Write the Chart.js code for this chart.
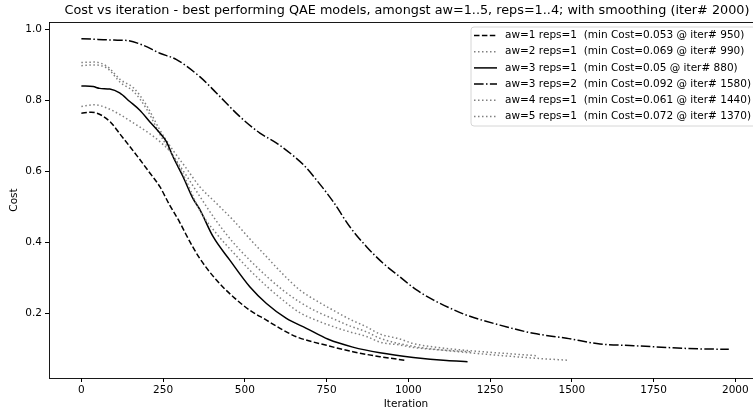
<!DOCTYPE html>
<html>
<head>
<meta charset="utf-8">
<script src="https://cdn.jsdelivr.net/npm/chart.js@4/dist/chart.umd.min.js"></script>
<style>
  html, body { margin: 0; padding: 0; background: #fff; }
  #wrap { width: 753px; height: 414px; position: relative; }
</style>
</head>
<body>
<div id="wrap"><canvas id="chart"></canvas></div>
<script>
// Tick labels
const xTicks = [0, 250, 500, 750, 1000, 1250, 1500, 1750, 2000];
const yTicks = [0.2, 0.4, 0.6, 0.8, 1.0];

// Series (iteration, smoothed cost)
const aw1r1Iter = [0, 30, 60, 90, 120, 150, 180, 210, 240, 270, 300, 330, 362, 413, 464, 515, 566, 617, 658, 750, 830, 913, 990];
const aw1r1Cost = [0.764, 0.767, 0.759, 0.738, 0.703, 0.668, 0.632, 0.595, 0.557, 0.505, 0.458, 0.405, 0.355, 0.294, 0.247, 0.209, 0.181, 0.153, 0.134, 0.110, 0.092, 0.078, 0.068];

const aw2r1Iter = [0, 40, 80, 120, 160, 200, 240, 280, 320, 362, 413, 464, 515, 566, 617, 668, 720, 770, 820, 872, 913, 974, 1015, 1100, 1190];
const aw2r1Cost = [0.783, 0.788, 0.778, 0.759, 0.736, 0.712, 0.684, 0.645, 0.575, 0.49, 0.425, 0.372, 0.322, 0.277, 0.237, 0.202, 0.180, 0.163, 0.148, 0.135, 0.119, 0.111, 0.104, 0.097, 0.092];

const aw3r1Iter = [0, 36, 56, 87, 117, 148, 178, 209, 240, 260, 280, 311, 341, 362, 403, 454, 515, 566, 627, 688, 755, 830, 913, 1015, 1117, 1181];
const aw3r1Cost = [0.841, 0.839, 0.834, 0.832, 0.821, 0.797, 0.773, 0.740, 0.708, 0.684, 0.642, 0.585, 0.524, 0.493, 0.416, 0.350, 0.275, 0.228, 0.186, 0.158, 0.127, 0.105, 0.089, 0.076, 0.067, 0.064];

const aw3r2Iter = [0, 50, 100, 138, 190, 240, 291, 362, 413, 484, 546, 597, 647, 680, 719, 770, 821, 872, 922, 974, 1025, 1076, 1127, 1178, 1280, 1382, 1484, 1586, 1689, 1790, 1893, 1980];
const aw3r2Cost = [0.974, 0.972, 0.970, 0.969, 0.955, 0.933, 0.915, 0.867, 0.821, 0.755, 0.708, 0.680, 0.645, 0.618, 0.576, 0.515, 0.444, 0.388, 0.342, 0.303, 0.266, 0.238, 0.215, 0.195, 0.167, 0.144, 0.130, 0.114, 0.109, 0.104, 0.100, 0.099];

const aw4r1Iter = [0, 40, 80, 120, 160, 200, 240, 280, 320, 362, 413, 464, 515, 566, 617, 668, 720, 770, 820, 872, 913, 1015, 1100, 1200, 1300, 1400, 1490];
const aw4r1Cost = [0.898, 0.900, 0.890, 0.850, 0.825, 0.775, 0.705, 0.645, 0.590, 0.530, 0.460, 0.400, 0.350, 0.305, 0.265, 0.232, 0.205, 0.185, 0.165, 0.148, 0.130, 0.107, 0.097, 0.088, 0.080, 0.073, 0.068];

const aw5r1Iter = [0, 40, 80, 120, 160, 200, 240, 280, 320, 362, 413, 464, 515, 566, 617, 668, 720, 770, 820, 872, 913, 974, 1015, 1100, 1200, 1300, 1390];
const aw5r1Cost = [0.907, 0.908, 0.895, 0.858, 0.835, 0.785, 0.717, 0.660, 0.610, 0.557, 0.510, 0.463, 0.410, 0.360, 0.310, 0.266, 0.235, 0.209, 0.184, 0.162, 0.142, 0.128, 0.115, 0.103, 0.094, 0.087, 0.081];

const labels = [
  'aw=1 reps=1  (min Cost=0.053 @ iter# 950)',
  'aw=2 reps=1  (min Cost=0.069 @ iter# 990)',
  'aw=3 reps=1  (min Cost=0.05 @ iter# 880)',
  'aw=3 reps=2  (min Cost=0.092 @ iter# 1580)',
  'aw=4 reps=1  (min Cost=0.061 @ iter# 1440)',
  'aw=5 reps=1  (min Cost=0.072 @ iter# 1370)'
];

const FONT = "'DejaVu Sans', sans-serif";
const DASHED = [5.5, 2.4];
const DASHDOT = [9.6, 2.4, 1.5, 2.4];
const DOTTED = [1.5, 2.5];

const pts = (xs, ys) => xs.map((x, i) => ({x: x, y: ys[i]}));
const mk = (label, xs, ys, color, dash) => ({
  label: label,
  data: pts(xs, ys),
  borderColor: color,
  borderWidth: 1.5,
  borderDash: dash,
  pointRadius: 0,
  fill: false,
  cubicInterpolationMode: 'monotone'
});

const datasets = [
  mk(labels[0], aw1r1Iter, aw1r1Cost, '#000', DASHED),
  mk(labels[1], aw2r1Iter, aw2r1Cost, '#808080', DOTTED),
  mk(labels[2], aw3r1Iter, aw3r1Cost, '#000', []),
  mk(labels[3], aw3r2Iter, aw3r2Cost, '#000', DASHDOT),
  mk(labels[4], aw4r1Iter, aw4r1Cost, '#808080', DOTTED),
  mk(labels[5], aw5r1Iter, aw5r1Cost, '#808080', DOTTED)
];

// frame, title, axis titles and matplotlib-like legend
const decor = {
  id: 'decor',
  afterDatasetsDraw(chart) {
    const ctx = chart.ctx, a = chart.chartArea;
    ctx.save();
    ctx.strokeStyle = '#000';
    ctx.lineWidth = 0.9;
    ctx.setLineDash([]);
    ctx.strokeRect(a.left + 0.5, a.top + 0.5, a.right - a.left + 20, a.bottom - a.top);

    ctx.fillStyle = '#000';
    ctx.font = '12.8px ' + FONT;
    ctx.textAlign = 'center';
    ctx.textBaseline = 'middle';
    ctx.fillText('Cost vs iteration - best performing QAE models, amongst aw=1..5, reps=1..4; with smoothing (iter# 2000)', 407, 11);

    ctx.font = '10.5px ' + FONT;
    ctx.fillText('Iteration', 406, 404);
    ctx.save();
    ctx.translate(14, 200);
    ctx.rotate(-Math.PI / 2);
    ctx.fillText('Cost', 0, 0);
    ctx.restore();

    // legend
    const lx = 471, ly = 27, lw = 300, lh = 99, r = 3;
    ctx.beginPath();
    ctx.moveTo(lx + r, ly);
    ctx.lineTo(lx + lw - r, ly);
    ctx.arcTo(lx + lw, ly, lx + lw, ly + r, r);
    ctx.lineTo(lx + lw, ly + lh - r);
    ctx.arcTo(lx + lw, ly + lh, lx + lw - r, ly + lh, r);
    ctx.lineTo(lx + r, ly + lh);
    ctx.arcTo(lx, ly + lh, lx, ly + lh - r, r);
    ctx.lineTo(lx, ly + r);
    ctx.arcTo(lx, ly, lx + r, ly, r);
    ctx.closePath();
    ctx.fillStyle = 'rgba(255,255,255,0.8)';
    ctx.fill();
    ctx.strokeStyle = '#cccccc';
    ctx.lineWidth = 0.8;
    ctx.stroke();

    ctx.textAlign = 'left';
    chart.data.datasets.forEach((ds, i) => {
      const y = 35.5 + i * 16.2;
      ctx.beginPath();
      ctx.strokeStyle = ds.borderColor;
      ctx.lineWidth = 1.5;
      ctx.setLineDash(ds.borderDash);
      ctx.moveTo(474, y);
      ctx.lineTo(497, y);
      ctx.stroke();
      ctx.setLineDash([]);
      ctx.fillStyle = '#000';
      ctx.fillText(ds.label, 505, y);
    });
    ctx.restore();
  }
};

new Chart(document.getElementById('chart'), {
  type: 'line',
  data: { datasets: datasets },
  options: {
    responsive: true,
    maintainAspectRatio: false,
    animation: false,
    layout: { padding: { top: 22, right: 0, left: 0, bottom: 0 } },
    plugins: { legend: { display: false }, tooltip: { enabled: false } },
    scales: {
      x: {
        type: 'linear',
        min: -99,
        max: 2054,
        afterBuildTicks: s => { s.ticks = xTicks.map(v => ({value: v})); },
        afterFit: s => { s.height = 36; },
        grid: { drawOnChartArea: false, tickLength: 4, tickColor: '#000' },
        border: { display: false },
        ticks: { color: '#000', font: { family: FONT, size: 10.5 }, padding: 2, maxRotation: 0,
                 callback: v => String(v) }
      },
      y: {
        min: 0.018,
        max: 1.021,
        afterBuildTicks: s => { s.ticks = yTicks.map(v => ({value: v})); },
        afterFit: s => { s.width = 49; },
        grid: { drawOnChartArea: false, tickLength: 4, tickColor: '#000' },
        border: { display: false },
        ticks: { color: '#000', font: { family: FONT, size: 10.5 }, padding: 3,
                 callback: v => v.toFixed(1) }
      }
    }
  },
  plugins: [decor]
});
</script>
</body>
</html>
